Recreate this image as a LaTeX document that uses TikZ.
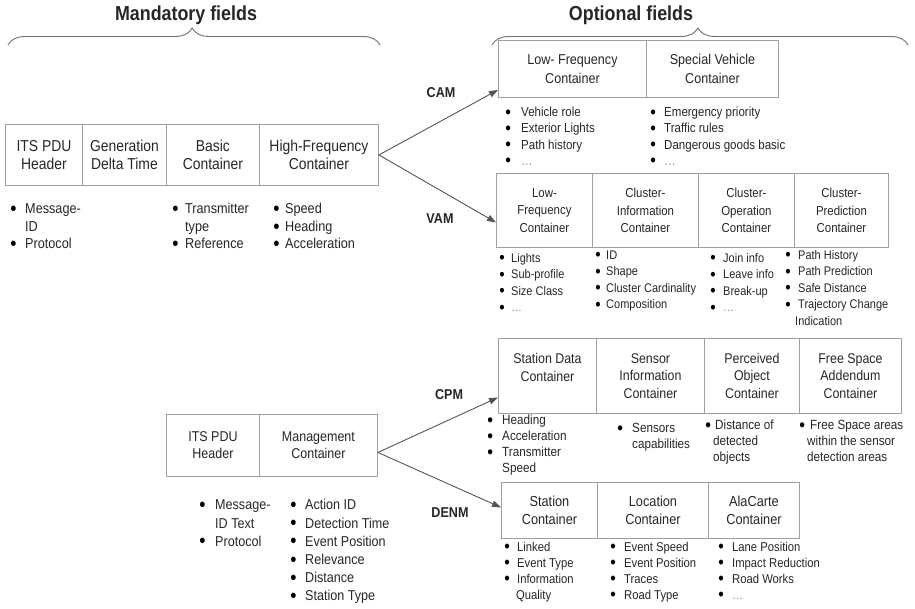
\documentclass[tikz,border=0pt]{standalone}
\usepackage{fontspec}
\setmainfont{Liberation Sans}[FakeStretch=0.88]
\usetikzlibrary{arrows.meta,decorations.pathreplacing,calc}
\definecolor{boxc}{HTML}{A0A0A0}
\definecolor{arrc}{HTML}{555555}
\definecolor{txtc}{HTML}{262626}
\definecolor{brc}{HTML}{707070}
\newlength\bw
\newcommand\bul{\raisebox{-0.11em}{\scalebox{1.4}{\color{black}\textbullet}}}
\newcommand\bi{\strut\makebox[\bw][l]{\hspace*{-0.8pt}\bul}}
\newcommand\bc[1][\bw]{\strut\hspace*{#1}}
\newcommand\fs[2]{\fontsize{#1}{#2}\selectfont}
\newcommand\dotsx{{\color{black!45}\dots}}
\begin{document}
\begin{tikzpicture}[x=1pt,y=-1pt,
  every node/.style={text=txtc},
  cell/.style={draw=boxc,line width=0.9pt,inner sep=0pt,anchor=north west,align=center},
  blist/.style={anchor=north west,inner sep=0pt,align=left},
  bw/.code={\global\bw=#1pt},
  lab/.style={font=\bfseries\fs{14.3}{17}},
  arr/.style={draw=arrc,line width=0.9pt,-{Triangle[length=9pt,width=6.5pt]}},
  bracestyle/.style={draw=brc,line width=0.9pt,decorate,decoration={brace,amplitude=17pt,aspect=0.495}}]
\useasboundingbox (0,0) rectangle (915,608);

% headers and braces
\node[font=\bfseries\fs{20.3}{24}] (mand) at (186,15) {Mandatory fields};
\node[font=\bfseries\fs{20.3}{24}] (opt) at (631,15) {Optional fields};
\draw[bracestyle] (8,45) -- (380,45);
\draw[bracestyle] (492,45) -- (908,45);

% mandatory 1
\node[cell,minimum width=77pt,minimum height=61pt,font=\fs{15.8}{18}] (its1) at (5,124) {ITS PDU\\Header};
\node[cell,minimum width=84pt,minimum height=61pt,font=\fs{15.8}{18}] (gen) at (82,124) {Generation\\Delta Time};
\node[cell,minimum width=93pt,minimum height=61pt,font=\fs{15.8}{18}] (basic) at (166,124) {Basic\\Container};
\node[cell,minimum width=119pt,minimum height=61pt,font=\fs{15.8}{18}] (hf) at (259,124) {High-Frequency\\Container};

\node[blist,bw=14,font=\fs{14.4}{17.5}] (b1) at (11,201.5) {\bi Message-\\\bc ID\\\bi Protocol};
\node[blist,bw=12,font=\fs{14.4}{17.5}] (b2) at (173,201.5) {\bi Transmitter\\\bc type\\\bi Reference};
\node[blist,bw=11,font=\fs{14.4}{17.5}] (b3) at (274,201.5) {\bi Speed\\\bi Heading\\\bi Acceleration};

% CAM
\node[cell,minimum width=148pt,minimum height=57pt,font=\fs{14.3}{19}] (lfc) at (498,40) {Low- Frequency\\Container};
\node[cell,minimum width=132pt,minimum height=57pt,font=\fs{14.3}{19}] (svc) at (646,40) {Special Vehicle\\Container};
\node[blist,bw=15,font=\fs{13.1}{16.3}] (b4) at (506,105) {\bi Vehicle role\\\bi Exterior Lights\\\bi Path history\\\bi\dotsx};
\node[blist,bw=13,font=\fs{13.1}{16.3}] (b5) at (651,105) {\bi Emergency priority\\\bi Traffic rules\\\bi Dangerous goods basic\\\bi\dotsx};

% VAM
\node[cell,minimum width=96pt,minimum height=74pt,font=\fs{13}{17.5}] (lfv) at (496,173) {Low-\\Frequency\\Container};
\node[cell,minimum width=106pt,minimum height=74pt,font=\fs{13}{17.5}] (cic) at (592,173) {Cluster-\\Information\\Container};
\node[cell,minimum width=96pt,minimum height=74pt,font=\fs{13}{17.5}] (coc) at (698,173) {Cluster-\\Operation\\Container};
\node[cell,minimum width=94pt,minimum height=74pt,font=\fs{13}{17.5}] (cpc) at (794,173) {Cluster-\\Prediction\\Container};
\node[blist,bw=11,font=\fs{12.5}{16.5}] (b6) at (500,250.6) {\bi Lights\\\bi Sub-profile\\\bi Size Class\\\bi\dotsx};
\node[blist,bw=10,font=\fs{12.5}{16.5}] (b7) at (596,247.6) {\bi ID\\\bi Shape\\\bi Cluster Cardinality\\\bi Composition};
\node[blist,bw=12,font=\fs{12.5}{16.5}] (b8) at (711,250.6) {\bi Join info\\\bi Leave info\\\bi Break-up\\\bi\dotsx};
\node[blist,bw=12,font=\fs{12.5}{16.5}] (b9) at (786,247.6) {\bi Path History\\\bi Path Prediction\\\bi Safe Distance\\\bi Trajectory Change\\\bc[9pt]Indication};

% mandatory 2
\node[cell,minimum width=93pt,minimum height=62pt,font=\fs{14.2}{17}] (its2) at (166,414) {ITS PDU\\Header};
\node[cell,minimum width=118pt,minimum height=62pt,font=\fs{14.2}{17}] (mgc) at (259,414) {Management\\Container};
\node[blist,bw=15,font=\fs{14.3}{18.2}] (b10) at (200,497) {\bi Message-\\\bc ID Text\\\bi Protocol};
\node[blist,bw=14,font=\fs{14.3}{18.2}] (b11) at (291,497) {\bi Action ID\\\bi Detection Time\\\bi Event Position\\\bi Relevance\\\bi Distance\\\bi Station Type};

% CPM
\node[cell,minimum width=98pt,minimum height=75pt,font=\fs{14.1}{17.5}] (sdc) at (498,338) {Station Data\\Container\\\mbox{}};
\node[cell,minimum width=108pt,minimum height=75pt,font=\fs{14.1}{17.5}] (sic) at (596,338) {Sensor\\Information\\Container};
\node[cell,minimum width=95pt,minimum height=75pt,font=\fs{14.1}{17.5}] (poc) at (704,338) {Perceived\\Object\\Container};
\node[cell,minimum width=102pt,minimum height=75pt,font=\fs{14.1}{17.5}] (fsc) at (799,338) {Free Space\\Addendum\\Container};
\node[blist,bw=14,font=\fs{13.3}{16}] (b12) at (488,413.2) {\bi Heading\\\bi Acceleration\\\bi Transmitter\\\bc Speed};
\node[blist,bw=14,font=\fs{13.3}{16}] (b13) at (618,421.2) {\bi Sensors\\\bc capabilities};
\node[blist,bw=9,font=\fs{13.3}{16}] (b14) at (706,418.2) {\bi Distance of\\\bc[7pt]detected\\\bc[7pt]objects};
\node[blist,bw=10,font=\fs{13.3}{16}] (b15) at (800,418.2) {\bi Free Space areas\\\bc[7pt]within the sensor\\\bc[7pt]detection areas};

% DENM
\node[cell,minimum width=96pt,minimum height=56pt,font=\fs{14.5}{18}] (stc) at (501,482) {Station\\Container};
\node[cell,minimum width=111pt,minimum height=56pt,font=\fs{14.5}{18}] (loc) at (597,482) {Location\\Container};
\node[cell,minimum width=91pt,minimum height=56pt,font=\fs{14.5}{18}] (acc) at (708,482) {AlaCarte\\Container};
\node[blist,bw=12,font=\fs{12.8}{16}] (b16) at (505,540) {\bi Linked\\\bi Event Type\\\bi Information\\\bc[11pt]Quality};
\node[blist,bw=13,font=\fs{12.8}{16}] (b17) at (611,540) {\bi Event Speed\\\bi Event Position\\\bi Traces\\\bi Road Type};
\node[blist,bw=13,font=\fs{12.8}{16}] (b18) at (719,540) {\bi Lane Position\\\bi Impact Reduction\\\bi Road Works\\\bi\dotsx};

% labels
\node[lab] (cam) at (441,93) {CAM};
\node[lab] (vam) at (440,219) {VAM};
\node[lab] (cpm) at (449,395) {CPM};
\node[lab] (denm) at (450,513) {DENM};

% arrows
\coordinate (f1) at (hf.east);
\coordinate (f2) at ($(mgc.east)+(0,7)$);
\draw[arr] (f1) -- ($(lfc.south west)+(0,-8)$);
\draw[arr] (f1) -- ($(lfv.west)+(0,12)$);
\draw[arr] (f2) -- ($(sdc.west)+(0,21.5)$);
\draw[arr] (f2) -- ($(stc.west)+(0,-3)$);
\end{tikzpicture}
\end{document}
